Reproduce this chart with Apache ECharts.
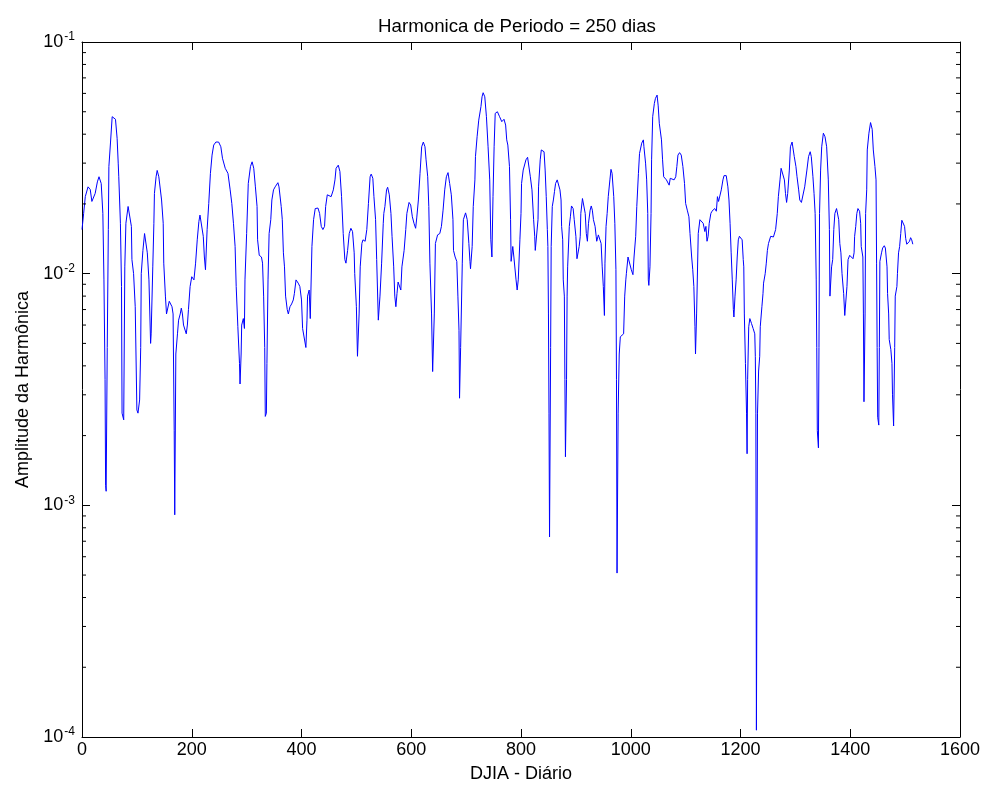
<!DOCTYPE html>
<html>
<head>
<meta charset="utf-8">
<title>Harmonica de Periodo = 250 dias</title>
<script src="https://cdn.jsdelivr.net/npm/echarts@6/dist/echarts.min.js"></script>
<style>
  html, body { margin: 0; padding: 0; background: #ffffff; }
  #chart { width: 986px; height: 789px; }
</style>
</head>
<body>
<div id="chart"></div>
<script>
// Text shown on the chart
const titleText = 'Harmonica de Periodo = 250 dias';
const xAxisName = 'DJIA - Diário';
const yAxisName = 'Amplitude da Harmônica';

// Axis ticks
const xTicks = [0, 200, 400, 600, 800, 1000, 1200, 1400, 1600];
const yDecades = [-4, -3, -2, -1];
const minorMultipliers = [2, 3, 4, 5, 6, 7, 8, 9];

// Harmonic amplitude per trading day: [day, amplitude]
const amplitudeByDay = [
  [0,0.0155],[3,0.0182],[6,0.0215],[11,0.0237],[15,0.0231],[18,0.0205],[20,0.0205],[24,0.0222],[28,0.0249],[31,0.0262],
  [35,0.0245],[38,0.0182],[40,0.0094],[42,0.0035],[43,0.00122],[44,0.00115],[46,0.0048],[48,0.0155],[49,0.029],[52,0.037],
  [55,0.0476],[57,0.048],[61,0.0464],[64,0.0384],[66,0.030],[67,0.0262],[70,0.0165],[72,0.0088],[73,0.0025],[76,0.00234],
  [78,0.0107],[80,0.0165],[84,0.0195],[87,0.0195],[90,0.016],[91,0.0115],[94,0.010],[97,0.0072],[100,0.00258],[102,0.0025],
  [105,0.00285],[107,0.0048],[108,0.010],[111,0.0126],[114,0.0149],[117,0.0148],[119,0.0123],[122,0.0094],[125,0.005],[126,0.0055],
  [129,0.0107],[131,0.0165],[132,0.0222],[135,0.0262],[137,0.0279],[140,0.0262],[145,0.0208],[148,0.0165],[149,0.0111],[152,0.008],
  [154,0.0067],[156,0.0068],[159,0.0076],[164,0.0072],[166,0.0067],[168,0.00211],[169,0.00091],[171,0.0045],[174,0.0055],[176,0.0063],
  [179,0.0067],[181,0.0071],[183,0.0067],[185,0.0060],[188,0.0061],[190,0.0055],[192,0.006],[194,0.007],[197,0.0088],[200,0.0097],
  [204,0.0094],[207,0.0111],[210,0.014],[213,0.0168],[215,0.0179],[218,0.0177],[221,0.0145],[223,0.0118],[225,0.0104],[228,0.0155],
  [231,0.0201],[234,0.0271],[237,0.0325],[240,0.0359],[244,0.037],[249,0.037],[253,0.0353],[256,0.0315],[261,0.0285],[266,0.0271],
  [270,0.023],[273,0.0201],[276,0.0165],[279,0.0131],[281,0.0088],[284,0.0059],[287,0.0041],[288,0.00334],[290,0.0045],[291,0.006],
  [294,0.0064],[296,0.0058],[297,0.0094],[300,0.0149],[303,0.0245],[307,0.029],[310,0.0304],[313,0.0285],[316,0.0237],[319,0.0195],
  [320,0.014],[323,0.012],[327,0.0118],[329,0.0111],[331,0.008],[333,0.0048],[334,0.00242],[336,0.0025],[337,0.0041],[339,0.0094],
  [341,0.0149],[344,0.0171],[346,0.0208],[349,0.023],[352,0.0237],[357,0.0247],[359,0.0237],[363,0.0195],[365,0.0171],[367,0.0123],
  [369,0.0107],[371,0.008],[374,0.007],[376,0.0067],[379,0.0072],[382,0.0074],[385,0.0077],[387,0.0082],[390,0.0094],[392,0.0095],
  [394,0.0091],[397,0.0088],[400,0.0077],[402,0.0058],[405,0.0057],[408,0.0048],[410,0.0063],[411,0.008],[414,0.0085],[416,0.0064],
  [419,0.0131],[422,0.0171],[425,0.0191],[430,0.0192],[433,0.0182],[436,0.016],[439,0.0155],[442,0.016],[444,0.0195],[447,0.0219],
  [450,0.0219],[454,0.0215],[458,0.023],[461,0.0254],[463,0.0285],[467,0.0294],[470,0.0276],[473,0.0215],[476,0.0149],[479,0.0115],
  [481,0.0111],[484,0.0126],[487,0.0149],[490,0.0157],[493,0.0152],[496,0.0123],[497,0.010],[500,0.0072],[502,0.0044],[505,0.0067],
  [507,0.0107],[510,0.0135],[512,0.014],[516,0.0138],[519,0.0155],[522,0.0201],[525,0.0262],[527,0.0269],[530,0.0258],[532,0.0215],
  [535,0.0171],[537,0.0115],[540,0.0063],[541,0.0064],[543,0.008],[546,0.0111],[549,0.0165],[550,0.0182],[552,0.0195],[555,0.023],
  [557,0.0236],[560,0.0219],[563,0.0182],[565,0.0145],[568,0.0107],[570,0.008],[572,0.0072],[574,0.0082],[576,0.0092],[579,0.0092],
  [581,0.0085],[583,0.0107],[587,0.0126],[590,0.0155],[592,0.0182],[596,0.0203],[599,0.0198],[602,0.0176],[605,0.0165],[608,0.0157],
  [610,0.0174],[613,0.0208],[616,0.0271],[619,0.0353],[622,0.037],[625,0.0353],[627,0.031],[630,0.0262],[632,0.0195],[634,0.0111],
  [637,0.0067],[639,0.00378],[642,0.0067],[644,0.0135],[648,0.0147],[652,0.0149],[655,0.016],[658,0.0188],[661,0.023],[664,0.0262],
  [667,0.0273],[670,0.0245],[673,0.0219],[676,0.0171],[677,0.0126],[680,0.0118],[683,0.0113],[685,0.008],[687,0.0057],[688,0.0029],
  [690,0.0048],[693,0.0111],[695,0.0171],[699,0.0183],[702,0.0171],[705,0.0135],[707,0.0113],[708,0.0105],[711,0.0131],[713,0.0195],
  [716,0.0254],[717,0.032],[720,0.039],[723,0.046],[727,0.0526],[729,0.058],[731,0.0604],[734,0.058],[737,0.0476],[740,0.0353],
  [743,0.0254],[745,0.014],[747,0.0118],[749,0.0215],[751,0.0353],[753,0.0492],[757,0.05],[761,0.0476],[765,0.0453],[769,0.0464],
  [772,0.0438],[774,0.0378],[776,0.0359],[779,0.029],[781,0.0171],[782,0.0113],[785,0.0131],[787,0.0118],
  [791,0.0094],[793,0.0085],[795,0.0094],[798,0.014],[800,0.0182],[801,0.0245],[804,0.028],[809,0.031],[812,0.0318],[815,0.0316],
  [817,0.0262],[820,0.023],[823,0.0171],[825,0.0145],[826,0.0126],[828,0.0126],[831,0.0171],[832,0.0237],[835,0.031],[837,0.0342],
  [839,0.0345],[842,0.0336],[844,0.028],[846,0.0215],[848,0.0155],[849,0.0131],[850,0.0067],[851,0.0025],[852,0.00073],[854,0.0048],
  [855,0.0131],[857,0.0195],[859,0.0208],[861,0.0226],[863,0.0245],[866,0.0254],[868,0.0254],[871,0.023],[873,0.0208],[874,0.016],
  [876,0.014],[877,0.0094],[879,0.008],[880,0.0035],[881,0.00162],[883,0.0035],[884,0.008],[885,0.0107],[888,0.016],[890,0.0176],
  [892,0.0196],[895,0.0191],[897,0.0171],[900,0.0145],[902,0.0116],[904,0.0115],[906,0.0131],[908,0.0145],[909,0.0182],[912,0.0211],
  [915,0.0213],[917,0.0182],[919,0.0149],[921,0.0138],[923,0.0165],[926,0.0188],[928,0.0196],[930,0.0188],[932,0.0171],[935,0.016],
  [937,0.0145],[938,0.0138],[941,0.0147],[944,0.0149],[946,0.0135],[948,0.0107],[950,0.0088],[952,0.0066],[953,0.0111],[955,0.016],
  [957,0.0182],[959,0.0215],[962,0.0254],[964,0.0282],[966,0.0271],[969,0.0215],[971,0.0165],[973,0.0104],[974,0.0035],[975,0.00051],
  [977,0.0025],[979,0.0045],[981,0.00534],[984,0.0053],[987,0.0055],[989,0.008],[991,0.0094],[992,0.010],[995,0.0118],[998,0.0118],
  [1001,0.0104],[1004,0.0099],[1006,0.0118],[1009,0.0145],[1011,0.0195],[1014,0.0271],[1016,0.033],[1020,0.0366],[1023,0.0378],[1024,0.0353],
  [1027,0.030],[1029,0.0254],[1031,0.0182],[1032,0.0094],[1033,0.0089],[1035,0.0107],[1037,0.0182],[1038,0.031],[1040,0.0476],[1043,0.0543],
  [1045,0.0571],[1048,0.059],[1050,0.053],[1052,0.0446],[1056,0.0378],[1058,0.031],[1060,0.0262],[1062,0.0258],[1065,0.0254],[1068,0.025],
  [1070,0.0241],[1072,0.0258],[1075,0.0254],[1079,0.0254],[1082,0.0262],[1084,0.029],[1086,0.0325],[1089,0.0333],[1092,0.0325],[1095,0.029],
  [1098,0.0245],[1100,0.0201],[1103,0.0188],[1106,0.0176],[1108,0.0149],[1111,0.0118],[1113,0.0104],[1115,0.0088],[1117,0.0059],[1118,0.0045],
  [1120,0.0067],[1123,0.0149],[1126,0.0171],[1129,0.0174],[1132,0.0165],[1135,0.0152],[1137,0.016],[1139,0.0138],[1141,0.0145],[1143,0.0165],
  [1146,0.0182],[1148,0.0186],[1150,0.0188],[1153,0.0191],[1156,0.0186],[1158,0.0215],[1160,0.0205],[1163,0.0208],[1165,0.023],[1168,0.0254],
  [1170,0.0265],[1174,0.0265],[1177,0.0237],[1179,0.0208],[1181,0.0165],[1183,0.0123],[1185,0.0094],[1187,0.007],[1188,0.0065],[1190,0.008],
  [1192,0.0094],[1194,0.0118],[1196,0.014],[1198,0.0145],[1201,0.0146],[1203,0.014],[1205,0.0115],[1206,0.0107],[1207,0.0067],[1209,0.0041],
  [1211,0.0025],[1212,0.00167],[1213,0.0035],[1215,0.0059],[1217,0.0064],[1220,0.0061],[1223,0.0058],[1226,0.0055],[1227,0.0044],[1228,0.0025],
  [1229,0.000107],[1231,0.0025],[1233,0.0038],[1235,0.0044],[1236,0.0059],[1239,0.0072],[1241,0.0082],[1242,0.0091],[1245,0.010],[1247,0.0111],
  [1249,0.0126],[1251,0.0135],[1255,0.0145],[1257,0.0145],[1260,0.0144],[1262,0.0145],[1264,0.0155],[1267,0.0182],[1269,0.0215],[1272,0.0254],
  [1274,0.0285],[1277,0.029],[1280,0.0254],[1282,0.0222],[1284,0.0203],[1286,0.0222],[1289,0.028],[1291,0.0353],[1294,0.037],[1296,0.0366],
  [1298,0.032],[1301,0.029],[1303,0.0262],[1306,0.023],[1308,0.0208],[1311,0.0203],[1314,0.0203],[1317,0.0237],
  [1321,0.028],[1324,0.032],[1327,0.0336],[1329,0.032],[1332,0.0262],[1334,0.0222],[1336,0.0182],[1338,0.0094],[1339,0.0048],[1340,0.0021],
  [1342,0.00177],[1343,0.0048],[1344,0.0182],[1346,0.028],[1348,0.0353],[1351,0.0404],[1354,0.039],[1357,0.0353],[1360,0.0254],[1362,0.0155],
  [1363,0.008],[1366,0.0107],[1368,0.0115],[1370,0.0155],[1372,0.0182],[1375,0.0191],[1377,0.0191],[1379,0.0171],[1381,0.0135],[1383,0.0123],
  [1385,0.010],[1388,0.0082],[1390,0.0066],[1392,0.0067],[1394,0.0088],[1396,0.0115],[1399,0.012],[1402,0.012],[1405,0.0116],[1407,0.0123],
  [1408,0.0145],[1410,0.016],[1412,0.0182],[1414,0.0191],[1417,0.0186],[1419,0.0165],[1420,0.0131],[1423,0.0118],[1424,0.0067],[1425,0.0028],
  [1427,0.0067],[1428,0.0182],[1430,0.023],[1431,0.0342],[1434,0.0404],[1437,0.0449],[1440,0.042],[1442,0.0342],[1445,0.029],[1447,0.0254],
  [1448,0.0111],[1449,0.0048],[1450,0.0024],[1452,0.00222],[1453,0.0048],[1454,0.0113],[1457,0.0123],[1459,0.0129],[1462,0.0132],[1464,0.0129],
  [1467,0.0107],[1468,0.0082],[1470,0.0067],[1471,0.0052],[1474,0.0047],[1476,0.0041],[1477,0.0030],[1479,0.0022],[1480,0.0022],[1481,0.0048],
  [1482,0.008],[1485,0.0088],[1486,0.010],[1488,0.0123],[1490,0.0131],[1492,0.0149],[1494,0.017],[1497,0.017],[1499,0.016],[1501,0.0142],
  [1503,0.0134],[1505,0.0135],[1508,0.0138],[1510,0.0143],[1512,0.014],[1514,0.0134]
];

const FONT = 'Liberation Sans';
const INK = '#000000';

// Minor tick values (2..9 x each decade) for the log scale
const minorTickValues = [];
yDecades.slice(0, -1).forEach(function (d) {
  minorMultipliers.forEach(function (m) { minorTickValues.push([0, m * Math.pow(10, d)]); });
});

const xMin = xTicks[0];
const xMax = xTicks[xTicks.length - 1];
const xStep = xTicks[1] - xTicks[0];
const yMin = Math.pow(10, yDecades[0]);
const yMax = Math.pow(10, yDecades[yDecades.length - 1]);

function decadeLabel(v) {
  const e = Math.round(Math.log10(v));
  return '{b|10}{s|' + e + '}';
}

const chart = echarts.init(document.getElementById('chart'), null, { renderer: 'canvas' });

const axisLineStyle = { show: true, onZero: false, lineStyle: { color: INK, width: 1 } };

chart.setOption({
  animation: false,
  backgroundColor: '#ffffff',
  title: {
    text: titleText,
    left: 512,
    top: 12,
    textAlign: 'center',
    textStyle: { fontFamily: FONT, fontSize: 18.7, fontWeight: 'normal', color: INK }
  },
  grid: { left: 82, right: 26, top: 42, bottom: 52, containLabel: false },
  xAxis: [
    {
      type: 'value', position: 'bottom', min: xMin, max: xMax, interval: xStep,
      name: xAxisName, nameLocation: 'middle', nameGap: 28,
      nameTextStyle: { fontFamily: FONT, fontSize: 18, color: INK },
      axisLine: axisLineStyle,
      axisTick: { show: true, inside: true, length: 8, lineStyle: { color: INK } },
      axisLabel: {
        show: true, margin: 4, fontFamily: FONT, fontSize: 18, color: INK,
        formatter: function (v) { return String(v); }
      },
      splitLine: { show: false }
    },
    {
      type: 'value', position: 'top', min: xMin, max: xMax, interval: xStep,
      axisLine: axisLineStyle,
      axisTick: { show: true, inside: true, length: 8, lineStyle: { color: INK } },
      axisLabel: { show: false },
      splitLine: { show: false }
    }
  ],
  yAxis: [
    {
      type: 'log', logBase: 10, position: 'left', min: yMin, max: yMax,
      name: yAxisName, nameLocation: 'middle', nameGap: 46, nameRotate: 90,
      nameTextStyle: { fontFamily: FONT, fontSize: 18, color: INK },
      axisLine: axisLineStyle,
      axisTick: { show: true, inside: true, length: 8, lineStyle: { color: INK } },
      axisLabel: {
        show: true, margin: 7, formatter: decadeLabel,
        rich: {
          b: { fontFamily: FONT, fontSize: 18, color: INK, lineHeight: 22 },
          s: { fontFamily: FONT, fontSize: 12, color: INK, lineHeight: 6, verticalAlign: 'top', padding: [0, 0, 0, 1] }
        }
      },
      splitLine: { show: false }
    },
    {
      type: 'log', logBase: 10, position: 'right', min: yMin, max: yMax,
      axisLine: axisLineStyle,
      axisTick: { show: true, inside: true, length: 8, lineStyle: { color: INK } },
      axisLabel: { show: false },
      splitLine: { show: false }
    }
  ],
  series: [
    {
      type: 'line',
      name: 'amplitude',
      xAxisIndex: 0,
      yAxisIndex: 0,
      data: amplitudeByDay,
      showSymbol: false,
      symbol: 'none',
      lineStyle: { color: '#0000ff', width: 1 },
      clip: true,
      silent: true,
      z: 3
    },
    {
      // short inner ticks at 2..9 of every decade, on both vertical sides
      type: 'custom',
      xAxisIndex: 0,
      yAxisIndex: 0,
      silent: true,
      clip: false,
      z: 4,
      data: minorTickValues,
      renderItem: function (params, api) {
        const rect = params.coordSys;
        const y = api.coord([api.value(0), api.value(1)])[1];
        const style = { stroke: INK, lineWidth: 1 };
        return {
          type: 'group',
          children: [
            { type: 'line', shape: { x1: rect.x, y1: y, x2: rect.x + 4, y2: y }, style: style },
            { type: 'line', shape: { x1: rect.x + rect.width, y1: y, x2: rect.x + rect.width - 4, y2: y }, style: style }
          ]
        };
      }
    }
  ]
});
</script>
</body>
</html>
